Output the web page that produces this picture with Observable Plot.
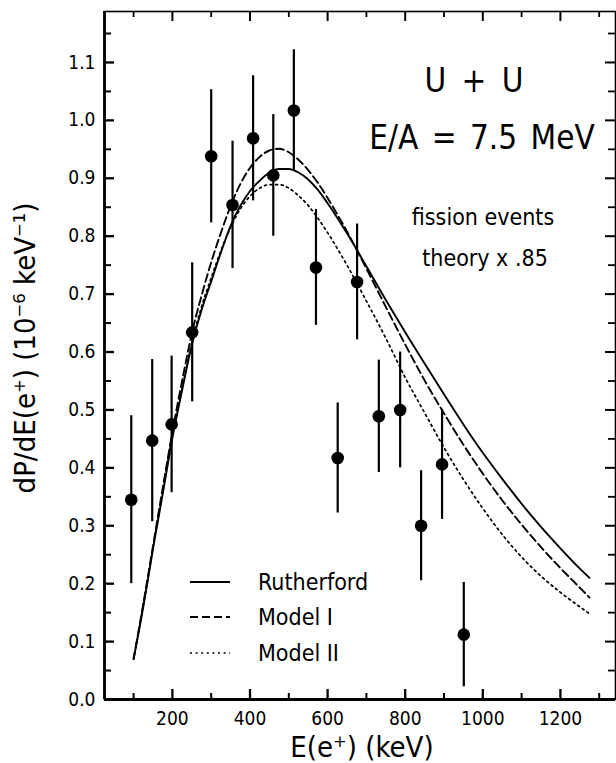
<!DOCTYPE html>
<html><head><meta charset="utf-8">
<script src="https://cdn.jsdelivr.net/npm/d3@7"></script>
<script src="https://cdn.jsdelivr.net/npm/@observablehq/plot@0.6"></script>
<style>
body{margin:0;background:#fff}
#wrap{position:relative;width:616px;height:763px;font-family:"Liberation Sans Narrow","DejaVu Sans Condensed","DejaVu Sans",sans-serif;color:#000}
.t{position:absolute;white-space:nowrap;line-height:1;transform:translate(-50%,-50%)}
.l{position:absolute;white-space:nowrap;line-height:1;transform:translate(0,-50%)}
</style></head><body><div id="wrap"></div>
<script>
// measured points
const energy = [94,148,198,251,300,355,408,460,513,570,626,676,732,787,841,895,951];
const rate   = [0.345,0.447,0.475,0.634,0.938,0.854,0.969,0.905,1.017,0.746,0.417,0.721,0.489,0.500,0.300,0.406,0.112];
const err    = [0.145,0.140,0.118,0.120,0.115,0.110,0.108,0.105,0.105,0.100,0.095,0.100,0.097,0.100,0.095,0.095,0.090];
// theory curves (x .85)
const curveE     = [100,125,150,175,200,225,250,275,300,325,350,375,400,425,450,475,500,525,550,575,600,650,700,750,800,850,900,950,1000,1050,1100,1150,1200,1250,1275];
const rutherford = [0.070,0.160,0.260,0.355,0.452,0.534,0.612,0.672,0.722,0.772,0.818,0.852,0.878,0.896,0.910,0.916,0.916,0.910,0.898,0.880,0.857,0.805,0.748,0.690,0.634,0.580,0.527,0.475,0.426,0.381,0.338,0.298,0.261,0.226,0.210];
const modelI     = [0.070,0.165,0.265,0.365,0.462,0.550,0.632,0.697,0.755,0.806,0.852,0.890,0.918,0.937,0.948,0.951,0.945,0.932,0.914,0.892,0.866,0.808,0.744,0.678,0.613,0.551,0.494,0.440,0.390,0.344,0.302,0.263,0.227,0.193,0.176];
const modelII    = [0.070,0.163,0.262,0.358,0.455,0.537,0.616,0.678,0.728,0.775,0.815,0.847,0.869,0.883,0.889,0.889,0.883,0.870,0.853,0.831,0.806,0.750,0.688,0.624,0.556,0.495,0.435,0.380,0.330,0.285,0.246,0.213,0.185,0.160,0.148];
// ticks
const xMajor = [200,400,600,800,1000,1200];
const xMinor = [100,300,500,700,900,1100,1300];
const yMajor = [0,0.1,0.2,0.3,0.4,0.5,0.6,0.7,0.8,0.9,1.0,1.1];
const yMinor = [0.05,0.15,0.25,0.35,0.45,0.55,0.65,0.75,0.85,0.95,1.05,1.15];
const xDomain = [25, 1342];
const yDomain = [0, 1.188];

const W = 616, H = 763, ML = 104, MR = 1, MT = 11, MB = 64;
const PW = W - ML - MR, PH = H - MT - MB;

const points = energy.map((e,i)=>({e, v: rate[i], lo: rate[i]-err[i], hi: rate[i]+err[i]}));
const curves = [
  {name:"Rutherford", vals: rutherford},
  {name:"Model I", vals: modelI},
  {name:"Model II", vals: modelII}
];
const curveRows = curves.flatMap(c => curveE.map((e,i)=>({name:c.name, e, v:c.vals[i]})));
const styleOf = {
  "Rutherford": {strokeWidth:1.9},
  "Model I": {strokeWidth:1.9, strokeDasharray:"8,4"},
  "Model II": {strokeWidth:1.7, strokeDasharray:"2,3.6"}
};
const FONT = '"Liberation Sans Narrow","DejaVu Sans Condensed","DejaVu Sans",sans-serif';

// inward ticks as insets rules (pixel lengths)
const tickBottom = (vals, len, sw) => Plot.ruleX(vals, {stroke: "#000", strokeWidth: sw, insetTop: PH - len});
const tickTop    = (vals, len, sw) => Plot.ruleX(vals, {stroke: "#000", strokeWidth: sw, insetBottom: PH - len});
const tickLeft   = (vals, len, sw) => Plot.ruleY(vals, {stroke: "#000", strokeWidth: sw, insetRight: PW - len});
const tickRight  = (vals, len, sw) => Plot.ruleY(vals, {stroke: "#000", strokeWidth: sw, insetLeft: PW - len});

const chart = Plot.plot({
  width: W, height: H,
  marginLeft: ML, marginRight: MR, marginTop: MT, marginBottom: MB,
  x: {domain: xDomain},
  y: {domain: yDomain},
  style: {fontFamily: FONT, fontSize: "19px"},
  marks: [
    Plot.axisX({anchor: "bottom", ticks: xMajor, tickSize: 0, tickPadding: 12, tickFormat: d => String(d), label: null, fontSize: 19}),
    Plot.axisY({anchor: "left", ticks: yMajor, tickSize: 0, tickPadding: 9, tickFormat: d3.format(".1f"), label: null, fontSize: 19}),
    // curves
    ...curves.map(c => Plot.line(curveRows.filter(d => d.name === c.name), {x: "e", y: "v", stroke: "black", curve: "monotone-x", ...styleOf[c.name]})),
    // data
    Plot.ruleX(points, {x: "e", y1: "lo", y2: "hi", stroke: "black", strokeWidth: 2.2}),
    Plot.dot(points, {x: "e", y: "v", r: 6.3, fill: "black", stroke: "none"}),
    // frame and inward ticks
    Plot.frame({stroke: "#000", strokeWidth: 1.6}),
    Plot.ruleX([xDomain[0]], {stroke: "#000", strokeWidth: 2.8}),
    Plot.ruleY([yDomain[0]], {stroke: "#000", strokeWidth: 2.8}),
    tickBottom(xMajor, 10, 2.3), tickBottom(xMinor, 6, 2),
    tickTop(xMajor, 10, 2), tickTop(xMinor, 6, 1.8),
    tickLeft(yMajor, 10, 2.3), tickLeft(yMinor, 7, 2),
    tickRight(yMajor, 10, 2), tickRight(yMinor, 7, 1.8)
  ]
});

const wrap = document.getElementById("wrap");
wrap.appendChild(chart);

function addText(txt, cls, left, top, size, extra) {
  const d = document.createElement("div");
  d.className = cls;
  d.textContent = txt;
  d.style.left = left + "px";
  d.style.top = top + "px";
  d.style.fontSize = size + "px";
  if (extra) Object.assign(d.style, extra);
  wrap.appendChild(d);
}
// annotations
addText("U + U", "t", 474, 80, 33, {wordSpacing: "6px"});
addText("E/A = 7.5 MeV", "t", 482, 137, 33, {wordSpacing: "4px"});
addText("fission events", "t", 483, 217, 23);
addText("theory x .85", "t", 485, 258, 23);
// axis titles
addText("E(e\u207A) (keV)", "t", 362, 747, 29);
addText("dP/dE(e\u207A) (10\u207B\u2076 keV\u207B\u00B9)", "t", 25, 348, 29, {transform: "translate(-50%,-50%) rotate(-90deg)"});

// legend
const legY = [582, 617, 653];
const ns = "http://www.w3.org/2000/svg";
curves.forEach((c, i) => {
  const s = document.createElementNS(ns, "svg");
  s.setAttribute("width", 44); s.setAttribute("height", 6);
  s.style.position = "absolute"; s.style.left = "188px"; s.style.top = (legY[i] - 3) + "px";
  const ln = document.createElementNS(ns, "line");
  ln.setAttribute("x1", 2); ln.setAttribute("x2", 42);
  ln.setAttribute("y1", 3); ln.setAttribute("y2", 3);
  ln.setAttribute("stroke", "black");
  ln.setAttribute("stroke-width", styleOf[c.name].strokeWidth);
  if (styleOf[c.name].strokeDasharray) ln.setAttribute("stroke-dasharray", styleOf[c.name].strokeDasharray);
  s.appendChild(ln);
  wrap.appendChild(s);
  addText(c.name, "l", 258, legY[i], 23);
});
</script></body></html>
